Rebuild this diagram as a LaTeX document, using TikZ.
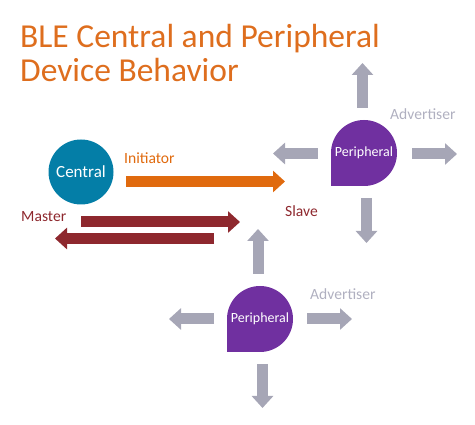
\documentclass[tikz,border=0pt]{standalone}
\usepackage{fontspec}
\setmainfont{Carlito}
\usetikzlibrary{arrows.meta}
\definecolor{titleor}{RGB}{222,110,30}
\definecolor{arrowor}{RGB}{224,106,14}
\definecolor{darkred}{RGB}{142,40,46}
\definecolor{centralblue}{RGB}{4,126,167}
\definecolor{periph}{RGB}{112,48,160}
\definecolor{grayarrow}{RGB}{166,166,182}
\definecolor{graytext}{RGB}{176,176,192}
\tikzset{
  blockarrow/.style={line width=11pt, -{Triangle[length=12pt,width=21pt]}},
  grayblock/.style={blockarrow, draw=grayarrow},
  lbl/.style={anchor=base west, inner sep=0pt, font=\fontsize{15.6}{18}\selectfont},
  ttl/.style={anchor=base west, inner sep=0pt, text=titleor, font=\fontsize{33.5}{36}\selectfont},
}
\begin{document}
\begin{tikzpicture}[x=1pt,y=-1pt]
\useasboundingbox (0,0) rectangle (475,425);
% title
\node[ttl] (t1) at (20,48) {BLE Central and Peripheral};
\node[ttl] (t2) at (20,82) {Device Behavior};
% central
\fill[centralblue] (81,172) circle[radius=32.5];
\node[text=white, font=\fontsize{17}{20}\selectfont] (central) at (81,172) {Central};
% peripheral 1
\fill[periph] (331,153) arc[start angle=180, end angle=450, radius=33] -- (331,186) -- cycle;
\node[text=white, font=\fontsize{14}{16}\selectfont, inner sep=0pt] (p1) at (364,153) {Peripheral};
% peripheral 2
\fill[periph] (227,319) arc[start angle=180, end angle=450, radius=33] -- (227,352) -- cycle;
\node[text=white, font=\fontsize{14}{16}\selectfont, inner sep=0pt] (p2) at (260,319) {Peripheral};
% labels
\node[lbl, text=arrowor] (init) at (124,164) {Initiator};
\node[lbl, text=darkred] (master) at (21,222) {Master};
\node[lbl, text=darkred] (slave) at (285,217) {Slave};
\node[lbl, text=graytext] (adv1) at (390,120) {Advertiser};
\node[lbl, text=graytext] (adv2) at (310,300) {Advertiser};
% coordinates
\coordinate (oa) at (126,181.5); \coordinate (ob) at (285,181.5);
\coordinate (ra) at (81,222); \coordinate (rb) at (240,222);
\coordinate (la) at (214,238.5); \coordinate (lb) at (55,238.5);
% main arrows
\draw[blockarrow, draw=arrowor] (oa) -- (ob);
\draw[blockarrow, draw=darkred] (ra) -- (rb);
\draw[blockarrow, draw=darkred] (la) -- (lb);
% peripheral 1 arrows
\coordinate (a1s) at (362.5,108); \coordinate (a1e) at (362.5,63);
\coordinate (a2s) at (318,153.5); \coordinate (a2e) at (273,153.5);
\coordinate (a3s) at (412,154); \coordinate (a3e) at (457,154);
\coordinate (a4s) at (366.5,198); \coordinate (a4e) at (366.5,243);
\draw[grayblock] (a1s) -- (a1e);
\draw[grayblock] (a2s) -- (a2e);
\draw[grayblock] (a3s) -- (a3e);
\draw[grayblock] (a4s) -- (a4e);
% peripheral 2 arrows
\coordinate (b1s) at (258,274); \coordinate (b1e) at (258,229);
\coordinate (b2s) at (214,319); \coordinate (b2e) at (169,319);
\coordinate (b3s) at (307,319); \coordinate (b3e) at (352,319);
\coordinate (b4s) at (262.5,364); \coordinate (b4e) at (262.5,408);
\draw[grayblock] (b1s) -- (b1e);
\draw[grayblock] (b2s) -- (b2e);
\draw[grayblock] (b3s) -- (b3e);
\draw[grayblock] (b4s) -- (b4e);
\end{tikzpicture}
\end{document}
